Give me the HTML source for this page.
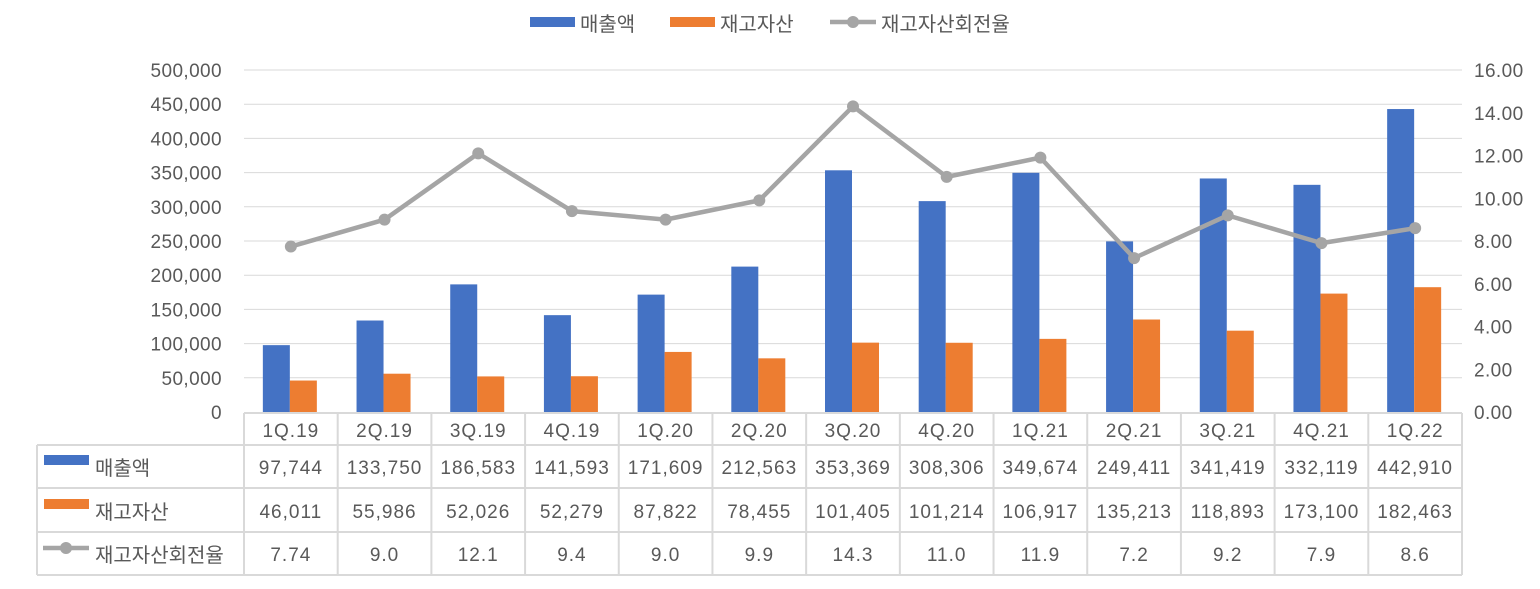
<!DOCTYPE html>
<html><head><meta charset="utf-8"><style>
body{margin:0;background:#fff;}
svg text{font-family:"Liberation Sans","Noto Sans CJK KR",sans-serif;fill:#595959;}
</style></head><body>
<svg width="1540" height="584">
<g id="grid"></g><g id="bars"></g><g id="line"></g><g id="axes"></g><g id="table"></g><g id="legend"></g>
</svg>
<script>
const categories=["1Q.19","2Q.19","3Q.19","4Q.19","1Q.20","2Q.20","3Q.20","4Q.20","1Q.21","2Q.21","3Q.21","4Q.21","1Q.22"];
const sales=[97744,133750,186583,141593,171609,212563,353369,308306,349674,249411,341419,332119,442910];
const inventory=[46011,55986,52026,52279,87822,78455,101405,101214,106917,135213,118893,173100,182463];
const turnover=[7.74,9.0,12.1,9.4,9.0,9.9,14.3,11.0,11.9,7.2,9.2,7.9,8.6];
const turnoverLabels=["7.74","9.0","12.1","9.4","9.0","9.9","14.3","11.0","11.9","7.2","9.2","7.9","8.6"];
const leftTicks=[0,50000,100000,150000,200000,250000,300000,350000,400000,450000,500000];
const rightTicks=[0,2,4,6,8,10,12,14,16];
const NS="http://www.w3.org/2000/svg";
const X0=244,X1=1462,Y0=412,Y1=70,cw=(X1-X0)/categories.length;
const yL=v=>Y0-(v/500000)*(Y0-Y1);
const yR=v=>Y0-(v/16)*(Y0-Y1);
const xc=i=>X0+cw*(i+0.5);
function mk(p,tag,a,txt){const e=document.createElementNS(NS,tag);for(const k in a)e.setAttribute(k,a[k]);if(txt!=null)e.textContent=txt;document.getElementById(p).appendChild(e);return e;}
const fmt=v=>v.toLocaleString("en-US");
const TS={"font-size":19,"letter-spacing":0.4};
const VS={"font-size":19,"letter-spacing":1,"text-anchor":"middle"};
leftTicks.forEach(t=>{
 if(t>0){const g=mk("grid","line",{x1:X0,x2:X1,y1:yL(t),y2:yL(t),stroke:"#d9d9d9","stroke-width":1});
 
 }
 const l=mk("axes","text",Object.assign({x:222,y:yL(t)+7,"text-anchor":"end"},TS),fmt(t));
 
 
});
rightTicks.forEach(t=>{
 const l=mk("axes","text",Object.assign({x:1474,y:yR(t)+7},TS),t.toFixed(2));
 
 
});
categories.forEach((c,i)=>{
 const b=mk("bars","rect",{x:xc(i)-28,y:yL(sales[i]),width:27,height:Y0-yL(sales[i]),fill:"#4472c4"});
 
 
 const o=mk("bars","rect",{x:xc(i)-1,y:yL(inventory[i]),width:27,height:Y0-yL(inventory[i]),fill:"#ed7d31"});
 
 
});
const pl=mk("line","polyline",{points:turnover.map((v,i)=>xc(i)+","+yR(v)).join(" "),fill:"none",stroke:"#a5a5a5","stroke-width":4.5,"stroke-linejoin":"round"});


turnover.forEach((v,i)=>{
 const p=mk("line","circle",{cx:xc(i),cy:yR(v),r:6,fill:"#a5a5a5"});
 
 
});
const TL=37,G="#d9d9d9";
[[X0,X1,413],[TL,X1,445],[TL,X1,488],[TL,X1,532],[TL,X1,575]].forEach(r=>{
 const h=mk("table","line",{x1:r[0],x2:r[1],y1:r[2],y2:r[2],stroke:G,"stroke-width":2});
 
 
});
{const v=mk("table","line",{x1:TL,x2:TL,y1:445,y2:575,stroke:G,"stroke-width":2});

}
for(let i=0;i<=categories.length;i++){
 const v=mk("table","line",{x1:X0+cw*i,x2:X0+cw*i,y1:413,y2:575,stroke:G,"stroke-width":2});
 
 
}
categories.forEach((c,i)=>{
 const t=mk("table","text",Object.assign({x:xc(i),y:437},VS),c);
 
 
 const a=mk("table","text",Object.assign({x:xc(i),y:474},VS),fmt(sales[i]));
 
 
 const b=mk("table","text",Object.assign({x:xc(i),y:518},VS),fmt(inventory[i]));
 
 
 const d=mk("table","text",Object.assign({x:xc(i),y:561},VS),turnoverLabels[i]);
 
 
});
</script>
<svg width="1540" height="584" style="position:absolute;left:0;top:0">
<g font-family="Liberation Sans,Noto Sans CJK KR,sans-serif" font-size="20" fill="#595959">
<rect x="44" y="455" width="45" height="10" fill="#4472c4"/>
<text x="95" y="475">매출액</text>
<rect x="44" y="499" width="45" height="10" fill="#ed7d31"/>
<text x="95" y="519">재고자산</text>
<line x1="43" x2="89" y1="548" y2="548" stroke="#a5a5a5" stroke-width="4.5"/>
<circle cx="66" cy="548" r="6" fill="#a5a5a5"/>
<text x="95" y="562">재고자산회전율</text>
<rect x="530" y="17" width="45" height="10" fill="#4472c4"/>
<text x="580" y="31">매출액</text>
<rect x="670" y="17" width="45" height="10" fill="#ed7d31"/>
<text x="720" y="31">재고자산</text>
<line x1="830" x2="876" y1="22" y2="22" stroke="#a5a5a5" stroke-width="4.5"/>
<circle cx="853" cy="22" r="6" fill="#a5a5a5"/>
<text x="881" y="31">재고자산회전율</text>
</g></svg>
</body></html>
